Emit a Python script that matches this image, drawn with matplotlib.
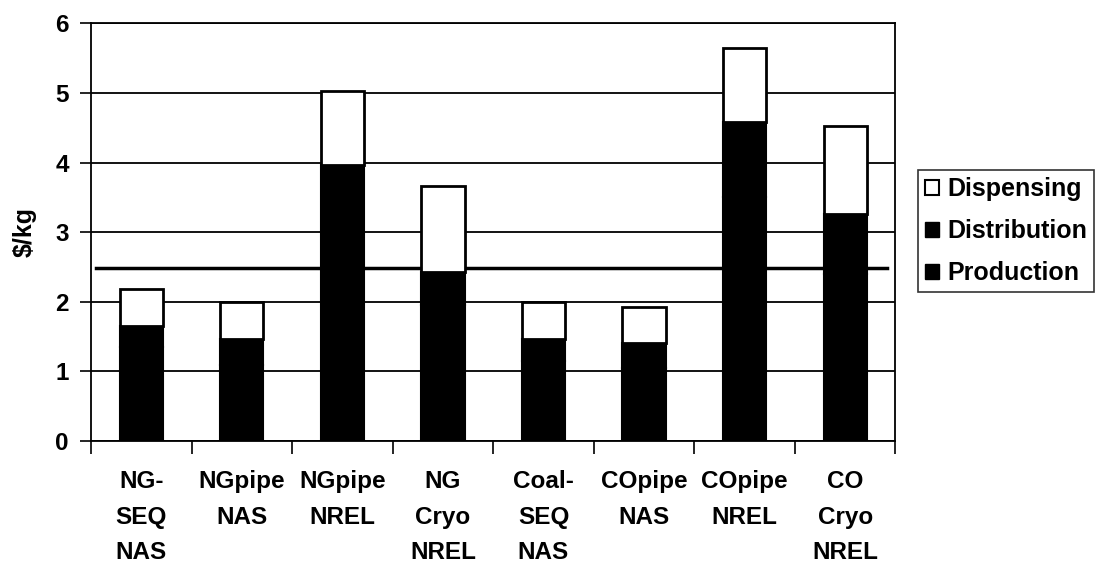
import matplotlib
matplotlib.use("Agg")
import matplotlib.pyplot as plt
from matplotlib.patches import Patch

categories = ["NG-\nSEQ\nNAS", "NGpipe\nNAS", "NGpipe\nNREL", "NG\nCryo\nNREL",
              "Coal-\nSEQ\nNAS", "COpipe\nNAS", "COpipe\nNREL", "CO\nCryo\nNREL"]
production = [1.35, 1.10, 3.00, 1.95, 1.15, 1.05, 3.50, 2.40]
distribution = [0.30, 0.36, 0.97, 0.48, 0.31, 0.36, 1.08, 0.86]
dispensing = [0.53, 0.54, 1.06, 1.24, 0.54, 0.51, 1.06, 1.27]
target_line = 2.48
yticks = [0, 1, 2, 3, 4, 5, 6]

plt.rcParams['font.family'] = ['Liberation Sans', 'DejaVu Sans']
plt.rcParams['font.weight'] = 'bold'

fig = plt.figure(figsize=(10.96, 5.67), dpi=100)
ax = fig.add_axes([0.083, 0.222, 0.734, 0.737])

x = list(range(len(categories)))
w = 0.43
ax.bar(x, production, w, color='black', edgecolor='black', linewidth=1.5, zorder=3)
bottom2 = production
ax.bar(x, distribution, w, bottom=bottom2, color='black', edgecolor='black', linewidth=1.5, zorder=3)
bottom3 = [p + d for p, d in zip(production, distribution)]
ax.bar(x, dispensing, w, bottom=bottom3, color='white', edgecolor='black', linewidth=2, zorder=3)

ax.plot([-0.45, 7.42], [target_line, target_line], color='black', linewidth=2.5, zorder=2)

ax.set_xlim(-0.5, 7.5)
ax.set_ylim(0, 6)
ax.set_yticks(yticks)
ax.set_yticklabels([str(v) for v in yticks], fontsize=17.5, fontweight='bold')
ax.yaxis.grid(True, color='black', linewidth=1.3, zorder=1)
ax.set_axisbelow(True)

ax.set_xticks([i + 0.5 for i in range(-1, len(categories))])
ax.set_xticklabels([])
ax.set_xticks(x, minor=True)
ax.set_xticklabels(categories, minor=True, fontsize=17.5, fontweight='bold', linespacing=1.68)
ax.tick_params(axis='x', which='minor', length=0, pad=21)
ax.tick_params(axis='x', which='major', length=9, width=1.2, direction='out')
ax.tick_params(axis='y', length=8, width=1.2, direction='out', pad=8)

for s in ax.spines.values():
    s.set_linewidth(1.3)
    s.set_color('black')

ax.set_ylabel("$/kg", fontsize=18, fontweight='heavy')
ax.yaxis.set_label_coords(-0.067, 0.5)

handles = [Patch(facecolor='white', edgecolor='black', linewidth=1.5, label='Dispensing'),
           Patch(facecolor='black', edgecolor='black', label='Distribution'),
           Patch(facecolor='black', edgecolor='black', label='Production')]
leg = fig.legend(handles=handles, loc='upper left', bbox_to_anchor=(0.8375, 1 - 170 / 567),
                 frameon=True, fancybox=False, edgecolor='black', fontsize=18,
                 handlelength=0.55, handleheight=0.55, handletextpad=0.35,
                 labelspacing=0.72, borderpad=0.28, borderaxespad=0)
leg.get_frame().set_linewidth(1.2)
for t in leg.get_texts():
    t.set_fontweight('bold')

fig.savefig("out.png", dpi=100)
